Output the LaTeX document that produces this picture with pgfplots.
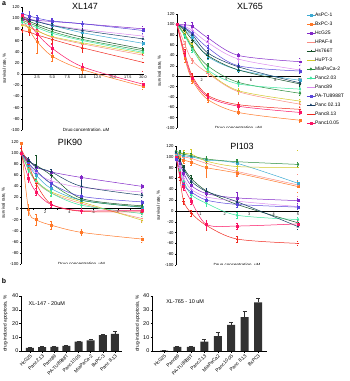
\documentclass[border=0pt]{standalone}
\usepackage{fontspec}
\setmainfont{Liberation Sans}
\usepackage{pgfplots}
\pgfplotsset{compat=1.18}

\definecolor{cAs}{RGB}{60,170,210}
\definecolor{cBx}{RGB}{255,120,40}
\definecolor{cHc}{RGB}{130,40,200}
\definecolor{cHP}{RGB}{250,140,130}
\definecolor{cHs}{RGB}{20,80,40}
\definecolor{cHu}{RGB}{210,200,40}
\definecolor{cMi}{RGB}{40,140,60}
\definecolor{cPa}{RGB}{60,230,160}
\definecolor{cPb}{RGB}{220,140,240}
\definecolor{cPA}{RGB}{90,70,220}
\definecolor{cPc}{RGB}{20,60,100}
\definecolor{cPd}{RGB}{240,40,30}
\definecolor{cPe}{RGB}{250,20,100}
\definecolor{barc}{RGB}{50,50,50}

\pgfplotsset{
  ser/.style={smooth, line width=0.5pt, mark size=0.9pt, mark options={solid},
    error bars/y dir=both, error bars/y explicit,
    error bars/error bar style={line width=0.3pt, solid},
    error bars/error mark options={rotate=90, mark size=0.9pt, line width=0.3pt}},
  sAs/.style={ser, color=cAs, mark=square*},
  sBx/.style={ser, color=cBx, mark=square*},
  sHc/.style={ser, color=cHc, mark=square*},
  sHP/.style={ser, color=cHP, mark=-, mark size=1.4pt},
  sHs/.style={ser, color=cHs, mark=+, mark size=1.3pt},
  sHu/.style={ser, color=cHu, mark=-, mark size=1.4pt},
  sMi/.style={ser, color=cMi, mark=diamond*, mark size=1.2pt},
  sPa/.style={ser, color=cPa, mark=diamond*, mark size=1.2pt},
  sPb/.style={ser, color=cPb, mark=-, mark size=1.4pt},
  sPA/.style={ser, color=cPA, mark=square*},
  sPc/.style={ser, color=cPc, mark=triangle*, mark size=1.1pt},
  sPd/.style={ser, color=cPd, mark=-, mark size=1.4pt},
  sPe/.style={ser, color=cPe, mark=square*},
  lineax/.style={scale only axis, anchor=north west,
    axis x line=middle, axis y line=left, axis line style={-, line width=0.4pt},
    ymin=-100, ymax=120, ytick={-100,-80,...,120}, xmin=0,
    tick align=outside, major tick length=1.2bp, tick style={line width=0.3pt, black},
    yticklabel style={font=\fontsize{4.3}{5}\selectfont, inner sep=1pt},
    xticklabel style={font=\fontsize{3.8}{4}\selectfont, inner sep=0.8pt},
    /pgf/number format/assume math mode=true,
    ylabel={survival rate, \%}, ylabel style={font=\fontsize{4.5}{5}\selectfont},
    hide obscured x ticks=false, hide obscured y ticks=false,
    enlargelimits=false},
  baraxis/.style={scale only axis, anchor=north west, height=55bp, ymin=0, ymax=40,
    ytick={0,10,20,30,40}, axis lines=left, axis line style={-, line width=0.5pt},
    xtick={0,...,7}, tick align=outside, major tick length=1.5bp,
    tick style={line width=0.4pt, black},
    xticklabel style={rotate=45, anchor=north east, inner sep=0.8pt, font=\fontsize{4.8}{5}\selectfont},
    yticklabel style={font=\fontsize{5.5}{6}\selectfont, inner sep=1pt},
    ylabel={drug-induced apoptosis, \%}, ylabel style={font=\fontsize{4.8}{5}\selectfont},
    /pgf/number format/assume math mode=true, enlargelimits=false},
  barplot/.style={ybar, fill=barc, draw=none, bar width=8bp,
    error bars/y dir=plus, error bars/y explicit,
    error bars/error bar style={line width=0.5pt, barc},
    error bars/error mark options={rotate=90, mark size=2bp, line width=0.5pt, barc}},
}

\begin{document}
\begin{tikzpicture}
\useasboundingbox (0,0) rectangle (350bp,-381bp);

% ---------------- XL147 ----------------
\begin{axis}[lineax, at={(22bp,-7bp)}, width=121bp, height=123bp, xmax=20,
  xtick={2.5,5,7.5,10,12.5,15,17.5,20},
  xticklabels={2.5,5.0,7.5,10.0,12.5,15.0,17.5,20.0}]
\addplot[sAs] coordinates {(0,100)+-(0,3) (1.25,97)+-(0,4) (2.5,94)+-(0,4) (5,87)+-(0,4) (10,74)+-(0,5) (20,55)+-(0,4)};
\addplot[sBx] coordinates {(0,100)+-(0,3) (1.25,78)+-(0,8) (2.5,58)+-(0,20) (5,32)+-(0,8) (10,8)+-(0,6) (20,-22)+-(0,5)};
\addplot[sHc] coordinates {(0,98)+-(0,3) (1.25,97)+-(0,8) (2.5,96)+-(0,5) (5,94)+-(0,5) (10,90)+-(0,5) (20,81)+-(0,4)};
\addplot[sHP] coordinates {(0,90)+-(0,3) (1.25,84)+-(0,4) (2.5,78)+-(0,5) (5,66)+-(0,5) (10,54)+-(0,5) (20,34)+-(0,5)};
\addplot[sHs] coordinates {(0,100)+-(0,3) (1.25,94)+-(0,5) (2.5,89)+-(0,16) (5,80)+-(0,5) (10,66)+-(0,6) (20,45)+-(0,4)};
\addplot[sHu] coordinates {(0,88)+-(0,3) (1.25,83)+-(0,4) (2.5,77)+-(0,4) (5,67)+-(0,4) (10,56)+-(0,4) (20,37)+-(0,4)};
\addplot[sMi] coordinates {(0,97)+-(0,3) (1.25,91)+-(0,4) (2.5,86)+-(0,5) (5,76)+-(0,5) (10,62)+-(0,5) (20,42)+-(0,4)};
\addplot[sPa] coordinates {(0,93)+-(0,3) (1.25,88)+-(0,4) (2.5,83)+-(0,4) (5,73)+-(0,4) (10,60)+-(0,4) (20,39)+-(0,4)};
\addplot[sPb] coordinates {(0,104)+-(0,3) (1.25,99)+-(0,4) (2.5,95)+-(0,4) (5,88)+-(0,4) (10,80)+-(0,4) (20,68)+-(0,4)};
\addplot[sPA] coordinates {(0,108)+-(0,3) (1.25,104)+-(0,8) (2.5,100)+-(0,6) (5,95)+-(0,5) (10,90)+-(0,5) (20,78)+-(0,4)};
\addplot[sPc] coordinates {(0,103)+-(0,3) (1.25,98)+-(0,4) (2.5,94)+-(0,4) (5,87)+-(0,4) (10,78)+-(0,5) (20,63)+-(0,4)};
\addplot[sPd] coordinates {(0,78)+-(0,3) (1.25,75)+-(0,6) (2.5,70)+-(0,12) (5,62)+-(0,6) (10,47)+-(0,8) (20,21)+-(0,15)};
\addplot[sPe] coordinates {(0,105)+-(0,3) (1.25,90)+-(0,5) (2.5,72)+-(0,8) (5,46)+-(0,8) (10,13)+-(0,6) (20,-18)+-(0,5)};
\node[font=\fontsize{4.5}{5}\selectfont] at (rel axis cs:0.53,0) {Drug concentration, μM};
\end{axis}

% ---------------- XL765 ----------------
\begin{axis}[lineax, at={(177bp,-14bp)}, width=123bp, height=114bp, xmax=10,
  xtick={1,...,10}, xticklabels={,2,,4,,6,,8,,10},
  legend style={at={(axis description cs:1.054,1.03)}, anchor=north west, draw=none, fill=none,
    font=\fontsize{5}{6}\selectfont, row sep=0pt, inner sep=0pt, outer sep=0pt,
    nodes={inner sep=0pt, text height=5.5bp, text depth=3.5bp}},
  legend cell align=left,
  legend image code/.code={\draw[#1, mark repeat=2, mark phase=2] plot coordinates {(0bp,0bp)(4bp,0bp)(8bp,0bp)};}]
\addplot[sAs] coordinates {(0,100)+-(0,3) (0.625,90)+-(0,4) (1.25,75)+-(0,5) (2.5,38)+-(0,5) (5,12)+-(0,5) (10,-8)+-(0,4)};
\addlegendentry{AsPC-1}
\addplot[sBx] coordinates {(0,100)+-(0,3) (0.625,35)+-(0,8) (1.25,-8)+-(0,5) (2.5,-45)+-(0,5) (5,-70)+-(0,4) (10,-85)+-(0,3)};
\addlegendentry{BxPC-3}
\addplot[sHc] coordinates {(0,100)+-(0,3) (0.625,99)+-(0,5) (1.25,96)+-(0,8) (2.5,74)+-(0,6) (5,40)+-(0,5) (10,28)+-(0,6)};
\addlegendentry{HcG25}
\addplot[sHP] coordinates {(0,100)+-(0,3) (0.625,62)+-(0,6) (1.25,30)+-(0,5) (2.5,6)+-(0,5) (5,-30)+-(0,5) (10,-54)+-(0,4)};
\addlegendentry{HPAF-II}
\addplot[sHs] coordinates {(0,100)+-(0,3) (0.625,88)+-(0,4) (1.25,70)+-(0,5) (2.5,40)+-(0,5) (5,12)+-(0,5) (10,-15)+-(0,4)};
\addlegendentry{Hs766T}
\addplot[sHu] coordinates {(0,100)+-(0,3) (0.625,82)+-(0,4) (1.25,58)+-(0,5) (2.5,10)+-(0,5) (5,-28)+-(0,5) (10,-48)+-(0,4)};
\addlegendentry{HuPT-3}
\addplot[sMi] coordinates {(0,100)+-(0,3) (0.625,80)+-(0,4) (1.25,55)+-(0,5) (2.5,20)+-(0,5) (5,-12)+-(0,5) (10,-33)+-(0,4)};
\addlegendentry{MiaPaCa-2}
\addplot[sPa] coordinates {(0,100)+-(0,3) (0.625,78)+-(0,4) (1.25,52)+-(0,5) (2.5,12)+-(0,5) (5,-15)+-(0,5) (10,-25)+-(0,4)};
\addlegendentry{Panc2.03}
\addplot[sPb] coordinates {(0,100)+-(0,3) (0.625,96)+-(0,4) (1.25,88)+-(0,5) (2.5,65)+-(0,5) (5,33)+-(0,5) (10,12)+-(0,4)};
\addlegendentry{Panc89}
\addplot[sPA] coordinates {(0,100)+-(0,3) (0.625,94)+-(0,4) (1.25,83)+-(0,5) (2.5,55)+-(0,5) (5,20)+-(0,5) (10,10)+-(0,4)};
\addlegendentry{PA-TU8988T}
\addplot[sPc] coordinates {(0,100)+-(0,3) (0.625,92)+-(0,4) (1.25,80)+-(0,5) (2.5,45)+-(0,5) (5,18)+-(0,5) (10,-13)+-(0,4)};
\addlegendentry{Panc 02.13}
\addplot[sPd] coordinates {(0,100)+-(0,3) (0.625,45)+-(0,8) (1.25,0)+-(0,5) (2.5,-37)+-(0,5) (5,-55)+-(0,5) (10,-64)+-(0,4)};
\addlegendentry{Panc8.13}
\addplot[sPe] coordinates {(0,100)+-(0,3) (0.625,40)+-(0,8) (1.25,-4)+-(0,5) (2.5,-40)+-(0,5) (5,-58)+-(0,5) (10,-70)+-(0,4)};
\addlegendentry{Panc10.05}
\node[font=\fontsize{4.5}{5}\selectfont] at (rel axis cs:0.5,0) {Drug concentration, μM};
\end{axis}

% ---------------- PIK90 ----------------
\begin{axis}[lineax, at={(21bp,-142bp)}, width=121bp, height=122bp, xmax=10,
  xtick={1,...,10}, xticklabels={,2,,4,,6,,8,,10}]
\addplot[sAs] coordinates {(0,100)+-(0,3) (0.625,78)+-(0,5) (1.25,60)+-(0,6) (2.5,36)+-(0,6) (5,15)+-(0,5) (10,2)+-(0,4)};
\addplot[sBx] coordinates {(0,118)+-(0,3) (0.625,-2)+-(0,10) (1.25,-20)+-(0,10) (2.5,-30)+-(0,8) (5,-43)+-(0,5) (10,-55)+-(0,5)};
\addplot[sHc] coordinates {(0,100)+-(0,3) (0.625,88)+-(0,5) (1.25,75)+-(0,5) (2.5,66)+-(0,5) (5,56)+-(0,4) (10,40)+-(0,4)};
\addplot[sHP] coordinates {(0,100)+-(0,3) (0.625,70)+-(0,5) (1.25,48)+-(0,5) (2.5,28)+-(0,5) (5,9)+-(0,4) (10,-18)+-(0,4)};
\addplot[sHs] coordinates {(0,100)+-(0,3) (0.625,85)+-(0,5) (1.25,78)+-(0,18) (2.5,60)+-(0,8) (5,18)+-(0,5) (10,5)+-(0,4)};
\addplot[sHu] coordinates {(0,100)+-(0,3) (0.625,72)+-(0,5) (1.25,50)+-(0,5) (2.5,30)+-(0,5) (5,12)+-(0,5) (10,-21)+-(0,4)};
\addplot[sMi] coordinates {(0,100)+-(0,3) (0.625,80)+-(0,5) (1.25,68)+-(0,5) (2.5,45)+-(0,5) (5,15)+-(0,5) (10,3)+-(0,4)};
\addplot[sPa] coordinates {(0,100)+-(0,3) (0.625,70)+-(0,5) (1.25,50)+-(0,5) (2.5,28)+-(0,5) (5,6)+-(0,4) (10,-9)+-(0,4)};
\addplot[sPb] coordinates {(0,100)+-(0,3) (0.625,80)+-(0,5) (1.25,65)+-(0,5) (2.5,50)+-(0,5) (5,38)+-(0,4) (10,30)+-(0,3)};
\addplot[sPA] coordinates {(0,100)+-(0,3) (0.625,82)+-(0,5) (1.25,68)+-(0,5) (2.5,45)+-(0,5) (5,22)+-(0,4) (10,12)+-(0,4)};
\addplot[sPc] coordinates {(0,100)+-(0,3) (0.625,88)+-(0,5) (1.25,75)+-(0,5) (2.5,66)+-(0,5) (5,40)+-(0,12) (10,24)+-(0,4)};
\addplot[sPd] coordinates {(0,108)+-(0,3) (0.625,80)+-(0,10) (1.25,45)+-(0,8) (2.5,8)+-(0,5) (5,-5)+-(0,4) (10,-6)+-(0,4)};
\addplot[sPe] coordinates {(0,100)+-(0,3) (0.625,55)+-(0,8) (1.25,30)+-(0,6) (2.5,7)+-(0,5) (5,-4)+-(0,4) (10,-3)+-(0,3)};
\node[font=\fontsize{4.5}{5}\selectfont] at (rel axis cs:0.5,0) {Drug concentration, μM};
\end{axis}

% ---------------- PI103 ----------------
\begin{axis}[lineax, at={(176bp,-146bp)}, width=122bp, height=119bp, xmax=5,
  xtick={1,...,5}]
\addplot[sAs] coordinates {(0,105)+-(0,3) (0.156,104)+-(0,4) (0.3125,102)+-(0,4) (0.625,100)+-(0,5) (1.25,94)+-(0,6) (2.5,88)+-(0,6) (5,51)+-(0,5)};
\addplot[sBx] coordinates {(0,100)+-(0,3) (0.156,97)+-(0,4) (0.3125,94)+-(0,5) (0.625,90)+-(0,6) (1.25,80)+-(0,18) (2.5,70)+-(0,6) (5,45)+-(0,10)};
\addplot[sHc] coordinates {(0,100)+-(0,3) (0.156,88)+-(0,5) (0.3125,70)+-(0,6) (0.625,47)+-(0,6) (1.25,32)+-(0,8) (2.5,24)+-(0,10) (5,19)+-(0,5)};
\addplot[sHP] coordinates {(0,105)+-(0,3) (0.156,103)+-(0,4) (0.3125,100)+-(0,5) (0.625,97)+-(0,6) (1.25,88)+-(0,6) (2.5,73)+-(0,6) (5,48)+-(0,20)};
\addplot[sHs] coordinates {(0,110)+-(0,3) (0.156,95)+-(0,5) (0.3125,80)+-(0,5) (0.625,60)+-(0,6) (1.25,37)+-(0,6) (2.5,12)+-(0,5) (5,-22)+-(0,4)};
\addplot[sHu] coordinates {(0,108)+-(0,3) (0.156,106)+-(0,5) (0.3125,106)+-(0,6) (0.625,105)+-(0,10) (1.25,92)+-(0,8) (2.5,82)+-(0,6) (5,80)+-(0,32)};
\addplot[sMi] coordinates {(0,110)+-(0,3) (0.156,108)+-(0,4) (0.3125,105)+-(0,4) (0.625,102)+-(0,5) (1.25,96)+-(0,5) (2.5,91)+-(0,5) (5,86)+-(0,4)};
\addplot[sPa] coordinates {(0,100)+-(0,3) (0.156,75)+-(0,5) (0.3125,55)+-(0,5) (0.625,30)+-(0,5) (1.25,14)+-(0,5) (2.5,-8)+-(0,5) (5,-16)+-(0,4)};
\addplot[sPb] coordinates {(0,100)+-(0,3) (0.156,80)+-(0,5) (0.3125,60)+-(0,5) (0.625,40)+-(0,5) (1.25,26)+-(0,5) (2.5,18)+-(0,5) (5,8)+-(0,4)};
\addplot[sPA] coordinates {(0,95)+-(0,3) (0.156,70)+-(0,5) (0.3125,48)+-(0,5) (0.625,35)+-(0,5) (1.25,20)+-(0,5) (2.5,12)+-(0,5) (5,7)+-(0,4)};
\addplot[sPc] coordinates {(0,108)+-(0,3) (0.156,92)+-(0,5) (0.3125,78)+-(0,5) (0.625,55)+-(0,6) (1.25,36)+-(0,6) (2.5,17)+-(0,5) (5,-29)+-(0,4)};
\addplot[sPd] coordinates {(0,100)+-(0,3) (0.156,62)+-(0,6) (0.3125,18)+-(0,6) (0.625,-4)+-(0,5) (1.25,-27)+-(0,8) (2.5,-52)+-(0,5) (5,-60)+-(0,4)};
\addplot[sPe] coordinates {(0,100)+-(0,3) (0.156,70)+-(0,6) (0.3125,45)+-(0,6) (0.625,18)+-(0,5) (1.25,-25)+-(0,8) (2.5,-28)+-(0,6) (5,-24)+-(0,5)};
\node[font=\fontsize{4.5}{5}\selectfont] at (rel axis cs:0.5,0) {Drug concentration, μM};
\end{axis}

% ---------------- bars left ----------------
\begin{axis}[baraxis, at={(21bp,-296bp)}, width=101bp, xmin=-0.74, xmax=7.58,
  ylabel style={at={(axis description cs:-0.155,0.5)}, anchor=center},
  xticklabels={HcG25,Panc2.13,Panc89,PA-TU8988T,Panc10.05,MiaPaCa-2,BxPC-3,Panc 8.13}]
\addplot[barplot] coordinates {(0,2.2)+-(0,0.3) (1,2.8)+-(0,0.3) (2,3.0)+-(0,0.4) (3,3.7)+-(0,0.6) (4,6.8)+-(0,0.4) (5,7.8)+-(0,1.0) (6,11.5)+-(0,0.8) (7,12.4)+-(0,2.0)};
\node[anchor=west, font=\fontsize{5.5}{6}\selectfont] at (axis cs:-0.4,34.5) {XL-147 - 20uM};
\end{axis}

% ---------------- bars right ----------------
\begin{axis}[baraxis, at={(152bp,-296bp)}, width=115bp, xmin=-0.9, xmax=7.67,
  ylabel style={at={(axis description cs:-0.125,0.5)}, anchor=center},
  xticklabels={HcG25,Panc89,PA-TU8988T,Panc2.13,MiaPaCa2,Panc10.05,Panc 8.13,BxPC3}]
\addplot[barplot] coordinates {(0,0.3)+-(0,0.2) (1,3.0)+-(0,0.3) (2,3.0)+-(0,0.3) (3,6.8)+-(0,1.5) (4,10.8)+-(0,3.0) (5,19.0)+-(0,1.9) (6,24.7)+-(0,4.3) (7,35.4)+-(0,3.3)};
\node[anchor=west, font=\fontsize{5.5}{6}\selectfont] at (axis cs:-0.1,36) {XL-765 - 10 uM};
\end{axis}

% titles and panel letters
\node[font=\fontsize{9}{10}\selectfont] at (85bp,-6bp) {XL147};
\node[font=\fontsize{9}{10}\selectfont] at (250bp,-6bp) {XL765};
\node[font=\fontsize{9}{10}\selectfont] at (70bp,-142bp) {PIK90};
\node[font=\fontsize{9}{10}\selectfont] at (242bp,-146bp) {PI103};
\node[font=\bfseries\fontsize{7}{8}\selectfont] at (4bp,-4bp) {a};
\node[font=\bfseries\fontsize{7}{8}\selectfont] at (4bp,-281bp) {b};
\end{tikzpicture}
\end{document}
